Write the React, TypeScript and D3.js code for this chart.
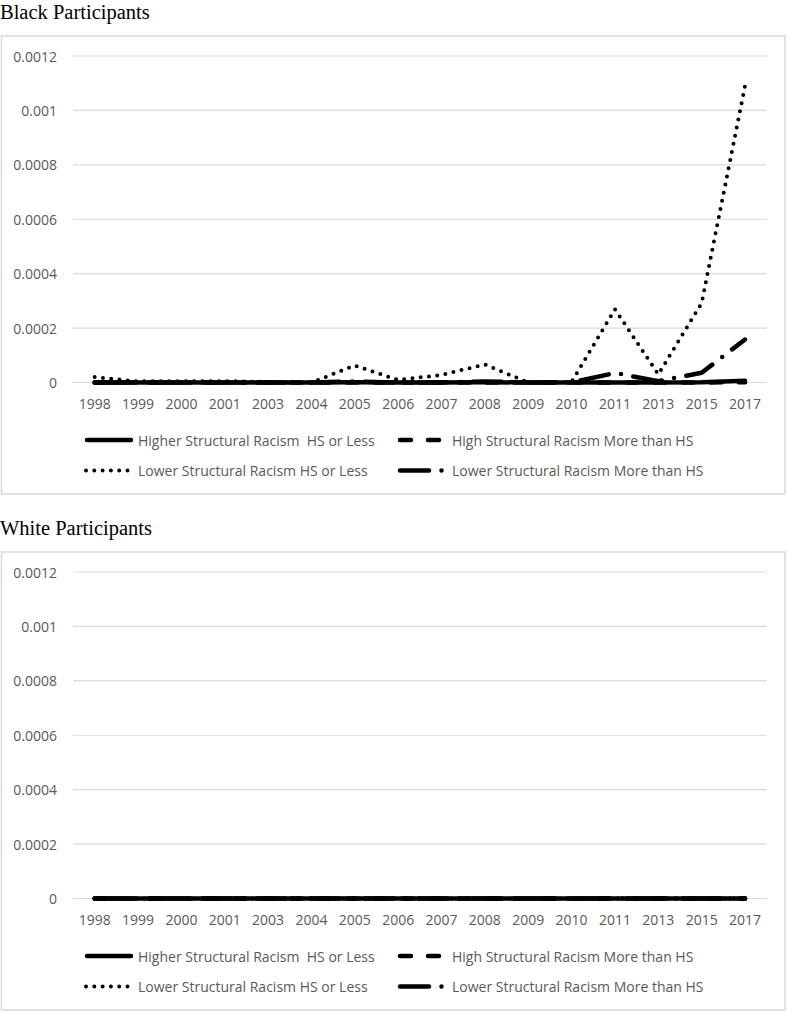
import React from 'react';
import * as d3 from 'd3';

const years = ['1998', '1999', '2000', '2001', '2003', '2004', '2005', '2006', '2007', '2008', '2009', '2010', '2011', '2013', '2015', '2017'];
const yTicks = [0, 0.0002, 0.0004, 0.0006, 0.0008, 0.001, 0.0012];

const seriesNames = [
  'Higher Structural Racism  HS or Less',
  'High Structural Racism More than HS',
  'Lower Structural Racism HS or Less',
  'Lower Structural Racism More than HS',
];

// Black participants
const blackHigherHsLess = [0, 0, 0, 0, 0, 0, 0.000001, 0, 0, 0.000001, 0, 0, 0, 0, 0.000001, 0.000006];
const blackHighMoreHs = [0, 0, 0, 0, 0, 0, 0, 0, 0, 0, 0, 0, 0, 0, 0, 0.000001];
const blackLowerHsLess = [0.00002, 0.000004, 0.000005, 0.000005, 0.000002, 0, 0.0000625, 0.000009, 0.000028, 0.000066, 0, 0.000002, 0.000269, 0.00003, 0.000292, 0.00109];
const blackLowerMoreHs = [0, 0, 0, 0, 0, 0, 0.000004, 0, 0, 0.000004, 0, 0, 0.000035, 0.000005, 0.000036, 0.000158];

// White participants
const whiteHigherHsLess = [0, 0, 0, 0, 0, 0, 0, 0, 0, 0, 0, 0, 0, 0, 0, 0];
const whiteHighMoreHs = [0, 0, 0, 0, 0, 0, 0, 0, 0, 0, 0, 0, 0, 0, 0, 0];
const whiteLowerHsLess = [0, 0, 0, 0, 0, 0, 0, 0, 0, 0, 0, 0, 0, 0, 0, 0];
const whiteLowerMoreHs = [0, 0, 0, 0, 0, 0, 0, 0, 0, 0, 0, 0, 0, 0, 0, 0];

const FONT = '"Open Sans", sans-serif';
const GREY = '#595959';
const GRID = '#d9d9d9';

// stroke styles per series (solid, dash, dot, long dash dot)
const styles = [
  { width: 4.5, dash: undefined as string | undefined },
  { width: 4.5, dash: '11 17' },
  { width: 4, dash: '0 8.3' },
  { width: 4.5, dash: '29 12.5 0 12.5' },
];

const x = d3.scaleBand<string>().domain(years).range([73, 766.7]);
const y = d3.scaleLinear().domain([0, 0.0012]).range([382.5, 56]);

const line = d3
  .line<number>()
  .x((_, i) => (x(years[i]) as number) + x.bandwidth() / 2)
  .y((d) => y(d))
  .curve(d3.curveLinear);

const fmt = (v: number) => String(+v.toFixed(4));

interface PanelProps {
  title: string;
  top: number;
  series: number[][];
}

const Panel: React.FC<PanelProps> = ({ title, top, series }) => {
  const legend = [
    { x0: 87, x1: 131, tx: 138, ty: 440 },
    { x0: 400, x1: 441, tx: 452, ty: 440 },
    { x0: 86, x1: 128, tx: 138, ty: 470.5 },
    { x0: 400, x1: 445, tx: 452, ty: 470.5 },
  ];
  return (
    <g transform={`translate(0,${top})`}>
      <text x={0} y={18.5} fontFamily='"Liberation Serif", "Times New Roman", serif' fontSize={20.5} fill="#000">
        {title}
      </text>
      <rect x={1.5} y={36} width={783.5} height={458} fill="#fff" stroke={GRID} strokeWidth={1.5} />
      {yTicks.map((t) => (
        <g key={t}>
          <line x1={73} x2={766.7} y1={y(t)} y2={y(t)} stroke={GRID} strokeWidth={1.2} />
          <text
            x={57}
            y={y(t)}
            textAnchor="end"
            dominantBaseline="central"
            fontFamily={FONT}
            fontSize={14}
            fill={GREY}
          >
            {fmt(t)}
          </text>
        </g>
      ))}
      {years.map((yr) => (
        <text
          key={yr}
          x={(x(yr) as number) + x.bandwidth() / 2}
          y={403.5}
          textAnchor="middle"
          dominantBaseline="central"
          fontFamily={FONT}
          fontSize={14}
          fill={GREY}
        >
          {yr}
        </text>
      ))}
      {series.map((s, i) => (
        <path
          key={i}
          d={line(s) ?? ''}
          fill="none"
          stroke="#000"
          strokeWidth={styles[i].width}
          strokeDasharray={styles[i].dash}
          strokeLinecap="round"
          strokeLinejoin="round"
        />
      ))}
      {legend.map((l, i) => (
        <g key={i}>
          <line
            x1={l.x0}
            x2={l.x1}
            y1={l.ty}
            y2={l.ty}
            stroke="#000"
            strokeWidth={styles[i].width}
            strokeDasharray={styles[i].dash}
            strokeLinecap="round"
          />
          <text x={l.tx} y={l.ty} dominantBaseline="central" fontFamily={FONT} fontSize={14} fill={GREY} style={{ whiteSpace: 'pre' }}>
            {seriesNames[i]}
          </text>
        </g>
      ))}
    </g>
  );
};

const App: React.FC = () => {
  return (
    <svg
      width={787}
      height={1012}
      style={{ position: 'absolute', left: 0, top: 0, background: '#fff' }}
    >
      <Panel
        title="Black Participants"
        top={0}
        series={[blackHigherHsLess, blackHighMoreHs, blackLowerHsLess, blackLowerMoreHs]}
      />
      <Panel
        title="White Participants"
        top={516}
        series={[whiteHigherHsLess, whiteHighMoreHs, whiteLowerHsLess, whiteLowerMoreHs]}
      />
    </svg>
  );
};

export default App;
